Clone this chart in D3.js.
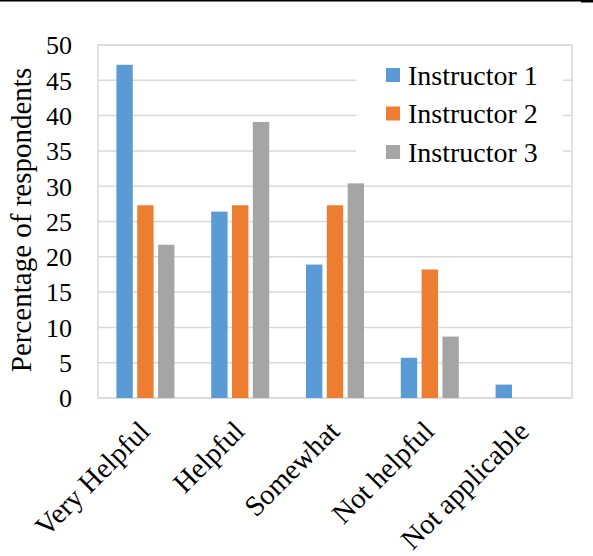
<!DOCTYPE html>
<html>
<head>
<meta charset="utf-8">
<script src="https://cdn.jsdelivr.net/npm/d3@7/dist/d3.min.js"></script>
<style>
  html, body { margin: 0; padding: 0; background: #fff; }
  svg { display: block; }
  svg text { font-family: "Liberation Serif", "Times New Roman", serif !important; fill: #000; }
</style>
</head>
<body>
<svg id="chart" width="593" height="556"></svg>
<script>
const categories = ["Very Helpful", "Helpful", "Somewhat", "Not helpful", "Not applicable"];
const seriesNames = ["Instructor 1", "Instructor 2", "Instructor 3"];
const instructor1 = [47.2, 26.4, 18.9, 5.7, 1.9];
const instructor2 = [27.3, 27.3, 27.3, 18.2, 0];
const instructor3 = [21.7, 39.1, 30.4, 8.7, 0];
const seriesValues = [instructor1, instructor2, instructor3];
const seriesColors = ["#5b9bd5", "#ed7d31", "#a5a5a5"];
const yTicks = [0, 5, 10, 15, 20, 25, 30, 35, 40, 45, 50];
const yTitle = "Percentage of respondents";

(function () {
const FONT = "Liberation Serif";
const svg = d3.select("#chart");
const pL = 98, pR = 572, pT = 45, pB = 398;

// top rule
svg.append("line").attr("x1", 0).attr("x2", 581).attr("y1", 0.75).attr("y2", 0.75)
  .attr("stroke", "#000").attr("stroke-width", 1.5);
svg.append("rect").attr("x", 581).attr("y", 0).attr("width", 12).attr("height", 2.5).attr("fill", "#000");

const x = d3.scaleBand().domain(categories).range([pL, pR]).paddingInner(0).paddingOuter(0);
const y = d3.scaleLinear().domain([0, 50]).range([pB, pT]);
const xs = d3.scaleBand().domain(seriesNames).range([-29, 29]).paddingInner(0.214).paddingOuter(0);

// gridlines
svg.append("g").selectAll("line").data(yTicks).join("line")
  .attr("x1", pL).attr("x2", pR)
  .attr("y1", d => y(d)).attr("y2", d => y(d))
  .attr("stroke", "#d9d9d9").attr("stroke-width", 1.5);

// plot border
svg.append("rect").attr("x", pL).attr("y", pT).attr("width", pR - pL).attr("height", pB - pT)
  .attr("fill", "none").attr("stroke", "#d9d9d9").attr("stroke-width", 1.5);

// legend background (covers gridlines)
svg.append("rect").attr("x", 356).attr("y", 56).attr("width", 207).attr("height", 116).attr("fill", "#fff");

// bars
const data = [];
categories.forEach((c, i) => seriesNames.forEach((s, j) => data.push({c, s, v: seriesValues[j][i], color: seriesColors[j]})));
svg.append("g").selectAll("rect").data(data.filter(d => d.v > 0)).join("rect")
  .attr("x", d => x(d.c) + x.bandwidth() / 2 + xs(d.s))
  .attr("width", xs.bandwidth())
  .attr("y", d => y(d.v))
  .attr("height", d => y(0) - y(d.v))
  .attr("fill", d => d.color);

// y axis labels
const yAxis = d3.axisLeft(y).tickValues(yTicks).tickSize(0).tickPadding(26).tickFormat(d3.format("d"));
const ga = svg.append("g").attr("transform", `translate(${pL},0)`).call(yAxis)
  .attr("font-family", FONT).attr("font-size", 26);
ga.select(".domain").remove();
ga.selectAll("text").attr("font-size", 26).attr("font-family", FONT).attr("dy", "0.34em");

// x labels
const xAxis = d3.axisBottom(x).tickSize(0);
const gx = svg.append("g").attr("transform", `translate(0,${pB})`).call(xAxis)
  .attr("font-family", FONT).attr("font-size", 28.5);
gx.select(".domain").remove();
gx.selectAll("text")
  .attr("font-size", 28.5).attr("font-family", FONT)
  .attr("text-anchor", "end").attr("dy", null).attr("y", 0)
  .attr("transform", "translate(6,35) rotate(-45)");

// y title
svg.append("text").attr("transform", "translate(31,220) rotate(-90)")
  .attr("text-anchor", "middle").attr("font-family", FONT).attr("font-size", 29).text(yTitle);

// legend
const lg = svg.append("g").attr("font-family", FONT).selectAll("g").data(seriesNames).join("g")
  .attr("transform", (d, i) => `translate(386,${75 + i * 38.5})`);
lg.append("rect").attr("x", 0).attr("y", -7).attr("width", 14).attr("height", 14)
  .attr("fill", (d, i) => seriesColors[i]);
lg.append("text").attr("x", 22).attr("y", 0).attr("dy", "0.34em")
  .attr("font-family", FONT).attr("font-size", 28).text(d => d);
})();
</script>
</body>
</html>
